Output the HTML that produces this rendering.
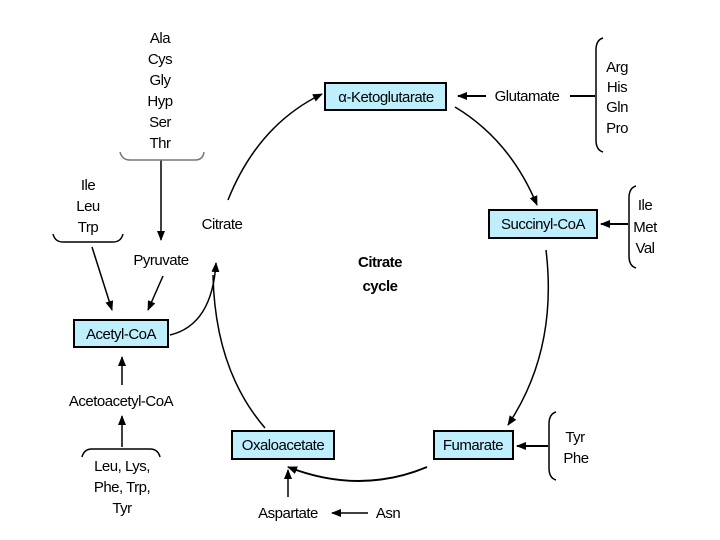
<!DOCTYPE html>
<html><head><style>
body{margin:0;background:#fff;}
svg{display:block;font-family:"Liberation Sans",sans-serif;}
.t{font-size:15px;fill:#000;text-anchor:middle;letter-spacing:-0.5px}
.b{fill:#bfeefc;stroke:#000;stroke-width:2}
</style></head><body>
<svg width="720" height="540" viewBox="0 0 720 540">
<defs><marker id="a" markerWidth="10" markerHeight="8" refX="9" refY="4" orient="auto" markerUnits="userSpaceOnUse"><path d="M0,0L10,4L0,8z" fill="#000"/></marker></defs>
<g fill="none" stroke="#000" stroke-width="1.5">
<path d="M228,200 Q258,125 322,94" marker-end="url(#a)"/>
<path d="M455,107 Q510,140 537,205" marker-end="url(#a)"/>
<path d="M546,250 Q558,350 508,425" marker-end="url(#a)"/>
<path d="M427,467 Q360,495 288,467" marker-end="url(#a)" stroke-width="2"/>
<path d="M265,428 Q215,370 213,275"/>
<path d="M170,335 Q212,325 216,263" marker-end="url(#a)"/>
<path d="M161,160 V240" marker-end="url(#a)"/>
<path d="M163,276 L148,310" marker-end="url(#a)"/>
<path d="M92,247 L112,310" marker-end="url(#a)"/>
<path d="M122,385 V357" marker-end="url(#a)"/>
<path d="M122,447 V416" marker-end="url(#a)"/>
<path d="M288,497 V470" marker-end="url(#a)"/>
<path d="M368,513 H332" marker-end="url(#a)"/>
<path d="M486,96 H458" marker-end="url(#a)" stroke-width="2"/>
<path d="M570,96 H595" stroke-width="2"/>
<path d="M628,224 H601" marker-end="url(#a)" stroke-width="2"/>
<path d="M548,446 H517" marker-end="url(#a)" stroke-width="2"/>
<path d="M120,152 Q122,160 130,160 H195 Q203,160 204,152" stroke="#777"/>
<path d="M53,234 Q55,242 63,242 H113 Q121,242 123,234"/>
<path d="M82,457 Q84,449 92,449 H150 Q158,449 160,457"/>
<path d="M603,38 Q596,40 596,50 V140 Q596,150 603,152"/>
<path d="M636,186 Q629,188 629,198 V256 Q629,266 636,268"/>
<path d="M556,412 Q549,414 549,424 V468 Q549,478 556,480"/>
</g>
<rect class="b" x="325" y="83" width="121" height="27"/>
<rect class="b" x="489" y="210" width="108" height="28"/>
<rect class="b" x="434" y="431" width="79" height="28"/>
<rect class="b" x="232" y="431" width="102" height="28"/>
<rect class="b" x="74" y="320" width="94" height="27"/>
<g class="t">
<text x="386" y="102">α-Ketoglutarate</text>
<text x="543" y="229">Succinyl-CoA</text>
<text x="473" y="450">Fumarate</text>
<text x="283" y="450">Oxaloacetate</text>
<text x="121" y="339">Acetyl-CoA</text>
<text x="160" y="43">Ala</text><text x="160" y="64">Cys</text><text x="160" y="85">Gly</text>
<text x="160" y="106">Hyp</text><text x="160" y="127">Ser</text><text x="160" y="148">Thr</text>
<text x="88" y="190">Ile</text><text x="88" y="211">Leu</text><text x="88" y="232">Trp</text>
<text x="222" y="229">Citrate</text>
<text x="161" y="265">Pyruvate</text>
<text x="380" y="267" font-weight="bold">Citrate</text>
<text x="380" y="291" font-weight="bold">cycle</text>
<text x="527" y="101">Glutamate</text>
<text x="617" y="72">Arg</text><text x="617" y="92">His</text><text x="617" y="112">Gln</text><text x="617" y="133">Pro</text>
<text x="645" y="210">Ile</text><text x="645" y="232">Met</text><text x="645" y="253">Val</text>
<text x="575" y="442">Tyr</text><text x="576" y="463">Phe</text>
<text x="121" y="406">Acetoacetyl-CoA</text>
<text x="122" y="471">Leu, Lys,</text><text x="122" y="492">Phe, Trp,</text><text x="122" y="513">Tyr</text>
<text x="288" y="518">Aspartate</text>
<text x="388" y="518">Asn</text>
</g>
</svg>
</body></html>
